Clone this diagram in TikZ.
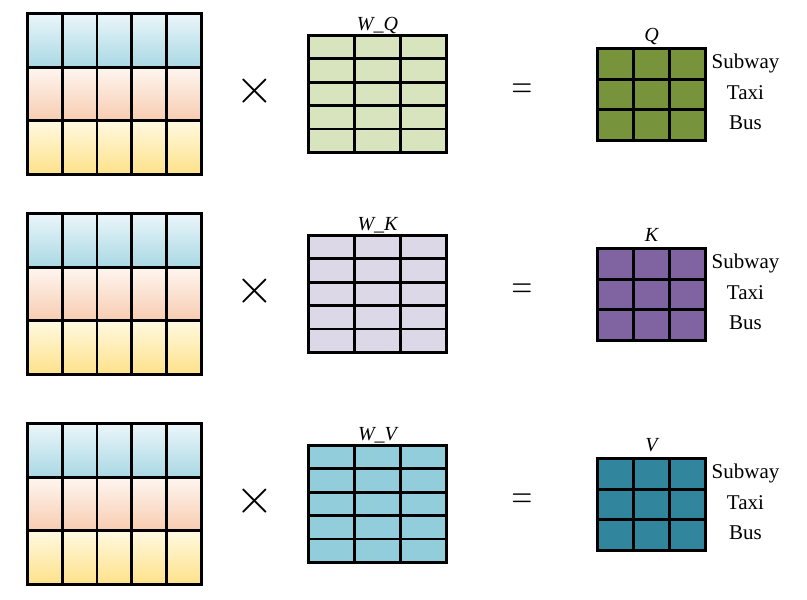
\documentclass[tikz,border=0pt]{standalone}
\usepackage{fontspec}
\setmainfont{Liberation Serif}
\usetikzlibrary{calc}

\definecolor{blueA}{HTML}{EBF6FA}
\definecolor{blueB}{HTML}{A9D8E4}
\definecolor{peachA}{HTML}{FEF6F0}
\definecolor{peachB}{HTML}{F8CCB0}
\definecolor{sandA}{HTML}{FFF9E0}
\definecolor{sandB}{HTML}{FEE189}
\definecolor{wqfill}{HTML}{D7E4BD}
\definecolor{wkfill}{HTML}{DDD8E8}
\definecolor{wvfill}{HTML}{92CDDC}
\definecolor{qfill}{HTML}{77933C}
\definecolor{kfill}{HTML}{8064A2}
\definecolor{vfill}{HTML}{31859C}

\begin{document}
\begin{tikzpicture}[x=1pt, y=1pt,
    mat/.style={rectangle, draw=black, line width=2.8pt, inner sep=0pt, outer sep=0pt},
    cell/.style={line width=2.8pt, draw=black},
    lbl/.style={font=\fontsize{20}{24}\selectfont\itshape, inner sep=0pt, anchor=base},
    side/.style={font=\fontsize{21}{24}\selectfont, inner sep=0pt, anchor=base},
    op/.style={font=\fontsize{24.88}{30}\selectfont, inner sep=0pt, scale=2, transform shape},
    eqop/.style={font=\fontsize{24.88}{30}\selectfont, inner sep=0pt, xscale=1.15, yscale=1.65, transform shape},
  ]
    \useasboundingbox (0,0) rectangle (807,600);

    \foreach \m/\dy/\wfill/\ofill in {Q/0/wqfill/qfill, K/-200/wkfill/kfill, V/-410/wvfill/vfill} {
      % Input matrix: three shaded bands, 5 columns
      \node[mat, draw=none, minimum width=174pt, minimum height=161pt] (in\m) at (114.5, 506+\dy) {};
      \shade[top color=blueA, bottom color=blueB] (in\m.north west) rectangle ($(in\m.north east)!1/3!(in\m.south east)$);
      \shade[top color=peachA, bottom color=peachB] ($(in\m.north west)!1/3!(in\m.south west)$) rectangle ($(in\m.north east)!2/3!(in\m.south east)$);
      \shade[top color=sandA, bottom color=sandB] ($(in\m.north west)!2/3!(in\m.south west)$) rectangle (in\m.south east);
      \foreach \i in {1,...,4}
        \draw[cell] ($(in\m.north west)!\i/5!(in\m.north east)$) -- ($(in\m.south west)!\i/5!(in\m.south east)$);
      \foreach \i in {1,2}
        \draw[cell] ($(in\m.north west)!\i/3!(in\m.south west)$) -- ($(in\m.north east)!\i/3!(in\m.south east)$);
      \draw[cell] (in\m.north west) rectangle (in\m.south east);

      % Weight matrix: 5 rows, 3 columns
      \node[mat, fill=\wfill, minimum width=138pt, minimum height=117pt] (w\m) at (377.5, 506+\dy) {};
      \foreach \i in {1,2}
        \draw[cell] ($(w\m.north west)!\i/3!(w\m.north east)$) -- ($(w\m.south west)!\i/3!(w\m.south east)$);
      \foreach \i in {1,...,4}
        \draw[cell] ($(w\m.north west)!\i/5!(w\m.south west)$) -- ($(w\m.north east)!\i/5!(w\m.south east)$);
      \node[lbl] (wl\m) at ($(w\m.north)+(0,5)$) {W\_\m};

      % Result matrix: 3 by 3
      \node[mat, fill=\ofill, minimum width=108pt, minimum height=92pt] (o\m) at (651.5, 505.5+\dy) {};
      \foreach \i in {1,2} {
        \draw[cell] ($(o\m.north west)!\i/3!(o\m.north east)$) -- ($(o\m.south west)!\i/3!(o\m.south east)$);
        \draw[cell] ($(o\m.north west)!\i/3!(o\m.south west)$) -- ($(o\m.north east)!\i/3!(o\m.south east)$);
      }
      \node[lbl] (ol\m) at ($(o\m.north)+(0,7)$) {\m};

      % Row names
      \node[side] (sub\m) at ($(o\m.north east)+(40,-20)$) {Subway};
      \node[side] (taxi\m) at ($(o\m.north east)+(40,-51)$) {Taxi};
      \node[side] (bus\m) at ($(o\m.north east)+(40,-81)$) {Bus};

      % Operators
      \node[op] (x\m) at (255, 509+\dy) {$\times$};
      \node[eqop] (eq\m) at (522, 509+\dy) {$=$};
    }

  \end{tikzpicture}
\end{document}
